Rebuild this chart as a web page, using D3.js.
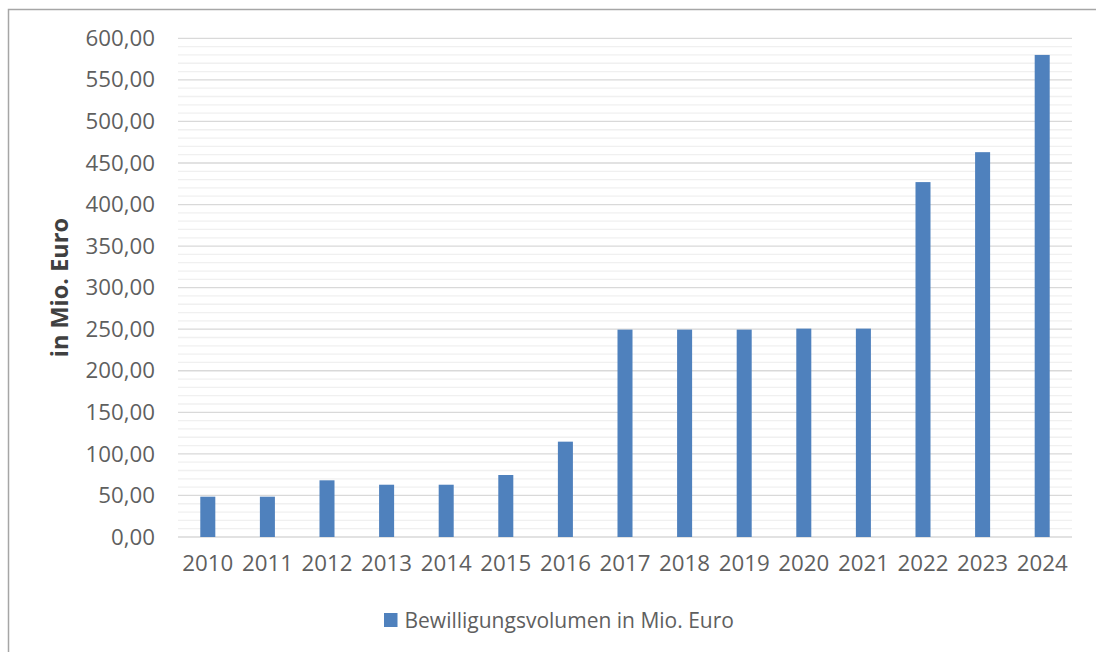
<!DOCTYPE html>
<html>
<head>
<meta charset="utf-8">
<script src="https://cdn.jsdelivr.net/npm/d3@7"></script>
<style>
  body { margin: 0; background: #fff; }
  svg { display: block; font-family: "Open Sans", sans-serif; }
</style>
</head>
<body>
<div class="chart"></div>
<script>
// data
var years = ["2010", "2011", "2012", "2013", "2014", "2015", "2016", "2017",
             "2018", "2019", "2020", "2021", "2022", "2023", "2024"];
var volumes = [48.5, 48.5, 68.2, 62.9, 62.9, 74.6, 114.7, 249.5,
               249.5, 249.5, 250.7, 250.7, 427, 463, 580];
var yTicks = d3.range(0, 601, 50);
var minorTicks = d3.range(0, 601, 10);
var seriesName = "Bewilligungsvolumen in Mio. Euro";

var svgWidth = 1096;
var svgHeight = 652;

var plot = { left: 178, right: 1072, top: 38.3, bottom: 537 };

var svg = d3.select(".chart")
  .append("svg")
  .attr("width", svgWidth)
  .attr("height", svgHeight);

// outer chart border (cut off on the right and bottom)
svg.append("path")
  .attr("d", `M8.5,${svgHeight + 2} V9.5 H${svgWidth + 2}`)
  .attr("fill", "none")
  .attr("stroke", "#a6a6a6")
  .attr("stroke-width", 1.5);

var x = d3.scaleBand()
  .domain(years)
  .range([plot.left, plot.right])
  .paddingInner(0.748)
  .paddingOuter(0.374);

var y = d3.scaleLinear()
  .domain([0, 600])
  .range([plot.bottom, plot.top]);

// minor gridlines
svg.append("g")
  .selectAll("line")
  .data(minorTicks.filter(d => d % 50 !== 0))
  .enter()
  .append("line")
  .attr("x1", plot.left)
  .attr("x2", plot.right)
  .attr("y1", d => y(d))
  .attr("y2", d => y(d))
  .attr("stroke", "#f0f0f0")
  .attr("stroke-width", 1.3);

// major gridlines
svg.append("g")
  .selectAll("line")
  .data(yTicks)
  .enter()
  .append("line")
  .attr("x1", plot.left)
  .attr("x2", plot.right)
  .attr("y1", d => y(d))
  .attr("y2", d => y(d))
  .attr("stroke", "#d9d9d9")
  .attr("stroke-width", 1.3);

// y axis labels
var leftAxis = d3.axisLeft(y)
  .tickValues(yTicks)
  .tickSize(0)
  .tickPadding(23)
  .tickFormat(d => d3.format(".2f")(d).replace(".", ","));

var yAxisG = svg.append("g")
  .attr("transform", `translate(${plot.left}, 0)`)
  .call(leftAxis);
yAxisG.select(".domain").remove();
yAxisG.selectAll("text")
  .attr("font-family", "Open Sans, sans-serif")
  .attr("font-size", "22.3px")
  .attr("fill", "#5f5f5f");

// x axis labels
var bottomAxis = d3.axisBottom(x).tickSize(0).tickPadding(18);
var xAxisG = svg.append("g")
  .attr("transform", `translate(0, ${plot.bottom})`)
  .call(bottomAxis);
xAxisG.select(".domain").remove();
xAxisG.selectAll("text")
  .attr("font-family", "Open Sans, sans-serif")
  .attr("font-size", "22.3px")
  .attr("fill", "#5f5f5f");

// bars
svg.append("g")
  .selectAll("rect")
  .data(volumes)
  .enter()
  .append("rect")
  .attr("x", (d, i) => x(years[i]))
  .attr("width", x.bandwidth())
  .attr("y", d => y(d))
  .attr("height", d => y(0) - y(d))
  .attr("fill", "#4f81bd");

// y axis title
svg.append("text")
  .attr("transform", `translate(68, ${(plot.top + plot.bottom) / 2}) rotate(-90)`)
  .attr("text-anchor", "middle")
  .attr("font-size", "23.5px")
  .attr("font-weight", "bold")
  .attr("fill", "#404040")
  .text("in Mio. Euro");

// legend
var legend = svg.append("g").attr("transform", "translate(384, 613)");
legend.append("rect")
  .attr("width", 13.5)
  .attr("height", 14)
  .attr("fill", "#4f81bd");
legend.append("text")
  .attr("x", 20.5)
  .attr("y", 14.5)
  .attr("font-size", "21px")
  .attr("fill", "#5f5f5f")
  .text(seriesName);
</script>
</body>
</html>
